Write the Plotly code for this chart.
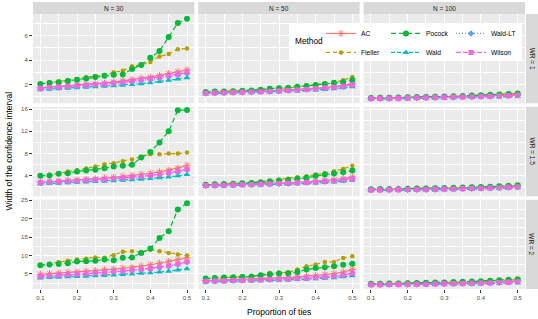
import plotly.graph_objects as go
from plotly.subplots import make_subplots

# ---------------- data ----------------
prop_ties = [0.1, 0.125, 0.15, 0.175, 0.2, 0.225, 0.25, 0.275, 0.3,
             0.325, 0.35, 0.375, 0.4, 0.425, 0.45, 0.475, 0.5]
sample_sizes = ["N = 30", "N = 50", "N = 100"]
win_ratios = ["WR = 1", "WR = 1.5", "WR = 2"]
methods = ["AC", "Fieller", "Pocock", "Wald", "Wald-LT", "Wilson"]

# each list: rows WR = 1, WR = 1.5, WR = 2
AC_N30 = [
    [1.75, 1.8, 1.85, 1.9, 1.95, 2.0, 2.05, 2.1, 2.2, 2.3, 2.4, 2.5, 2.6, 2.75, 2.9, 3.05, 3.2],
    [2.85, 2.95, 3.05, 3.15, 3.25, 3.35, 3.45, 3.6, 3.75, 3.9, 4.05, 4.25, 4.45, 4.7, 5.0, 5.4, 5.9],
    [4.9, 5.05, 5.2, 5.4, 5.55, 5.7, 5.9, 6.1, 6.3, 6.55, 6.8, 7.1, 7.5, 7.9, 8.4, 8.9, 9.4],
]
FIELLER_N30 = [
    [2.05, 2.2, 2.25, 2.35, 2.43, 2.6, 2.68, 2.78, 3.0, 3.13, 3.5, 3.6, 3.85, 4.3, 4.5, 4.9, 4.95],
    [4.0, 4.2, 4.48, 4.78, 5.0, 5.32, 5.68, 6.1, 6.28, 6.64, 6.94, 7.42, 7.9, 7.9, 8.0, 8.0, 8.2],
    [7.36, 7.7, 8.2, 8.6, 8.9, 9.1, 9.5, 9.4, 10.1, 11.0, 11.2, 10.9, 11.6, 11.2, 10.7, 10.3, 10.0],
]
POCOCK_N30 = [
    [2.05, 2.13, 2.19, 2.3, 2.4, 2.5, 2.62, 2.73, 2.8, 2.82, 3.27, 3.6, 4.2, 4.75, 5.9, 7.05, 7.4],
    [4.0, 4.06, 4.36, 4.48, 4.78, 4.96, 5.08, 5.38, 5.68, 5.8, 5.98, 7.3, 8.3, 10.0, 12.0, 15.8, 15.85],
    [7.36, 7.55, 7.7, 7.9, 8.36, 8.45, 8.6, 8.9, 8.7, 9.4, 9.5, 10.7, 11.9, 14.8, 16.6, 22.5, 24.2],
]
WALD_N30 = [
    [1.58, 1.62, 1.66, 1.7, 1.74, 1.78, 1.82, 1.86, 1.9, 1.95, 2.0, 2.07, 2.15, 2.25, 2.35, 2.45, 2.55],
    [2.55, 2.62, 2.69, 2.76, 2.83, 2.9, 2.97, 3.05, 3.13, 3.22, 3.31, 3.41, 3.52, 3.65, 3.8, 4.0, 4.25],
    [3.9, 4.0, 4.1, 4.2, 4.3, 4.4, 4.5, 4.6, 4.7, 4.85, 5.0, 5.15, 5.3, 5.5, 5.75, 6.05, 6.4],
]
WALDLT_N30 = [
    [1.68, 1.72, 1.77, 1.82, 1.87, 1.92, 1.97, 2.02, 2.08, 2.15, 2.23, 2.32, 2.42, 2.52, 2.64, 2.76, 2.9],
    [2.75, 2.83, 2.91, 2.99, 3.07, 3.15, 3.25, 3.35, 3.46, 3.58, 3.72, 3.86, 4.02, 4.2, 4.42, 4.72, 5.1],
    [4.3, 4.4, 4.55, 4.7, 4.85, 5.0, 5.15, 5.3, 5.5, 5.7, 5.9, 6.15, 6.4, 6.75, 7.1, 7.6, 8.2],
]
WILSON_N30 = [
    [1.7, 1.75, 1.8, 1.85, 1.9, 1.95, 2.0, 2.05, 2.12, 2.2, 2.3, 2.4, 2.5, 2.6, 2.75, 2.85, 3.0],
    [2.8, 2.88, 2.96, 3.04, 3.12, 3.2, 3.3, 3.4, 3.52, 3.64, 3.78, 3.92, 4.08, 4.26, 4.5, 4.8, 5.2],
    [4.4, 4.5, 4.65, 4.8, 4.95, 5.1, 5.25, 5.4, 5.6, 5.8, 6.0, 6.25, 6.5, 6.85, 7.2, 7.7, 8.3],
]

AC_N50 = [
    [1.32, 1.34, 1.36, 1.38, 1.4, 1.42, 1.45, 1.48, 1.52, 1.56, 1.6, 1.65, 1.7, 1.76, 1.83, 1.92, 2.05],
    [2.3, 2.34, 2.38, 2.42, 2.47, 2.52, 2.57, 2.63, 2.69, 2.76, 2.84, 2.93, 3.03, 3.15, 3.3, 3.5, 3.8],
    [3.2, 3.28, 3.36, 3.44, 3.52, 3.6, 3.7, 3.8, 3.92, 4.05, 4.2, 4.38, 4.58, 4.82, 5.1, 5.5, 6.2],
]
FIELLER_N50 = [
    [1.38, 1.42, 1.44, 1.46, 1.49, 1.52, 1.56, 1.62, 1.68, 1.72, 1.8, 1.88, 1.97, 2.07, 2.18, 2.35, 2.62],
    [2.41, 2.47, 2.53, 2.65, 2.71, 2.82, 3.0, 3.18, 3.35, 3.47, 3.76, 3.94, 4.24, 4.47, 4.82, 5.24, 5.82],
    [3.73, 3.9, 4.0, 4.18, 4.27, 4.27, 4.73, 5.27, 5.36, 5.45, 6.18, 7.1, 7.55, 8.27, 8.27, 9.36, 9.8],
]
POCOCK_N50 = [
    [1.38, 1.43, 1.43, 1.46, 1.49, 1.51, 1.57, 1.65, 1.7, 1.73, 1.81, 1.89, 1.97, 2.05, 2.14, 2.19, 2.38],
    [2.41, 2.47, 2.53, 2.59, 2.65, 2.71, 2.82, 3.0, 3.12, 3.24, 3.47, 3.65, 4.0, 4.24, 4.41, 4.65, 4.94],
    [3.73, 3.9, 4.0, 4.1, 4.18, 4.27, 4.64, 4.9, 5.1, 5.2, 5.5, 6.2, 6.6, 6.8, 7.1, 7.5, 7.8],
]
WALD_N50 = [
    [1.24, 1.26, 1.28, 1.3, 1.32, 1.34, 1.36, 1.38, 1.41, 1.44, 1.47, 1.51, 1.55, 1.6, 1.66, 1.73, 1.82],
    [2.15, 2.18, 2.21, 2.24, 2.28, 2.32, 2.36, 2.4, 2.45, 2.5, 2.56, 2.62, 2.7, 2.8, 2.9, 3.02, 3.2],
    [2.8, 2.85, 2.9, 2.96, 3.02, 3.08, 3.14, 3.2, 3.28, 3.36, 3.45, 3.55, 3.66, 3.8, 3.98, 4.2, 4.5],
]
WALDLT_N50 = [
    [1.28, 1.3, 1.32, 1.34, 1.36, 1.38, 1.41, 1.44, 1.47, 1.51, 1.55, 1.59, 1.64, 1.7, 1.77, 1.85, 1.96],
    [2.22, 2.26, 2.3, 2.34, 2.38, 2.42, 2.47, 2.52, 2.58, 2.64, 2.71, 2.79, 2.88, 2.98, 3.1, 3.26, 3.45],
    [2.95, 3.01, 3.07, 3.14, 3.21, 3.28, 3.36, 3.44, 3.53, 3.63, 3.74, 3.86, 4.0, 4.17, 4.38, 4.65, 5.1],
]
WILSON_N50 = [
    [1.28, 1.3, 1.32, 1.34, 1.36, 1.38, 1.41, 1.44, 1.47, 1.51, 1.55, 1.6, 1.65, 1.71, 1.78, 1.87, 1.98],
    [2.25, 2.29, 2.33, 2.37, 2.41, 2.45, 2.5, 2.55, 2.61, 2.67, 2.74, 2.82, 2.91, 3.01, 3.14, 3.3, 3.5],
    [3.0, 3.06, 3.12, 3.19, 3.26, 3.33, 3.41, 3.49, 3.58, 3.68, 3.79, 3.91, 4.05, 4.22, 4.43, 4.7, 5.2],
]

AC_N100 = [
    [0.87, 0.88, 0.89, 0.9, 0.92, 0.93, 0.95, 0.96, 0.98, 1.0, 1.02, 1.04, 1.06, 1.09, 1.11, 1.14, 1.17],
    [1.5, 1.52, 1.54, 1.56, 1.58, 1.6, 1.63, 1.66, 1.69, 1.72, 1.76, 1.8, 1.84, 1.89, 1.94, 2.0, 2.1],
    [2.15, 2.18, 2.21, 2.24, 2.27, 2.3, 2.34, 2.38, 2.42, 2.47, 2.52, 2.58, 2.64, 2.71, 2.8, 2.95, 3.1],
]
FIELLER_N100 = [
    [0.88, 0.89, 0.9, 0.92, 0.93, 0.95, 0.97, 0.99, 1.01, 1.03, 1.06, 1.09, 1.12, 1.16, 1.2, 1.25, 1.3],
    [1.55, 1.57, 1.59, 1.61, 1.64, 1.67, 1.7, 1.73, 1.77, 1.81, 1.85, 1.9, 1.95, 2.01, 2.08, 2.15, 2.25],
    [2.25, 2.29, 2.33, 2.37, 2.42, 2.47, 2.52, 2.58, 2.64, 2.71, 2.79, 2.88, 2.98, 3.09, 3.21, 3.33, 3.45],
]
POCOCK_N100 = [
    [0.9, 0.91, 0.92, 0.94, 0.95, 0.97, 0.99, 1.01, 1.03, 1.05, 1.07, 1.1, 1.13, 1.16, 1.19, 1.23, 1.27],
    [1.6, 1.62, 1.64, 1.66, 1.69, 1.72, 1.75, 1.78, 1.82, 1.86, 1.9, 1.95, 2.0, 2.06, 2.13, 2.2, 2.3],
    [2.3, 2.34, 2.38, 2.42, 2.47, 2.52, 2.58, 2.64, 2.7, 2.77, 2.85, 2.94, 3.04, 3.15, 3.28, 3.42, 3.55],
]
WALD_N100 = [
    [0.8, 0.81, 0.82, 0.83, 0.84, 0.86, 0.87, 0.88, 0.9, 0.91, 0.93, 0.95, 0.97, 0.99, 1.01, 1.03, 1.05],
    [1.35, 1.36, 1.37, 1.39, 1.41, 1.43, 1.45, 1.47, 1.5, 1.53, 1.56, 1.59, 1.63, 1.67, 1.72, 1.78, 1.85],
    [1.95, 1.97, 1.99, 2.01, 2.04, 2.07, 2.1, 2.13, 2.16, 2.2, 2.24, 2.28, 2.33, 2.38, 2.44, 2.52, 2.6],
]
WALDLT_N100 = [
    [0.84, 0.85, 0.86, 0.87, 0.89, 0.9, 0.91, 0.93, 0.95, 0.96, 0.98, 1.0, 1.02, 1.04, 1.07, 1.09, 1.12],
    [1.44, 1.46, 1.48, 1.5, 1.52, 1.54, 1.56, 1.59, 1.62, 1.65, 1.68, 1.72, 1.76, 1.8, 1.85, 1.92, 2.0],
    [2.04, 2.06, 2.09, 2.12, 2.15, 2.18, 2.21, 2.25, 2.29, 2.33, 2.38, 2.43, 2.49, 2.55, 2.63, 2.75, 2.9],
]
WILSON_N100 = [
    [0.85, 0.86, 0.87, 0.88, 0.9, 0.91, 0.92, 0.94, 0.96, 0.97, 0.99, 1.01, 1.03, 1.05, 1.07, 1.09, 1.12],
    [1.45, 1.47, 1.49, 1.51, 1.53, 1.55, 1.57, 1.6, 1.63, 1.66, 1.69, 1.73, 1.77, 1.81, 1.86, 1.93, 2.0],
    [2.05, 2.07, 2.1, 2.13, 2.16, 2.19, 2.22, 2.26, 2.3, 2.34, 2.39, 2.44, 2.5, 2.56, 2.64, 2.76, 2.9],
]

x_ticks = [0.1, 0.2, 0.3, 0.4, 0.5]
x_tick_labels = ["0.1", "0.2", "0.3", "0.4", "0.5"]

series = {
    "AC": [AC_N30, AC_N50, AC_N100],
    "Fieller": [FIELLER_N30, FIELLER_N50, FIELLER_N100],
    "Pocock": [POCOCK_N30, POCOCK_N50, POCOCK_N100],
    "Wald": [WALD_N30, WALD_N50, WALD_N100],
    "Wald-LT": [WALDLT_N30, WALDLT_N50, WALDLT_N100],
    "Wilson": [WILSON_N30, WILSON_N50, WILSON_N100],
}

# ---------------- styling ----------------
FONT = "Liberation Sans, Arial, sans-serif"
styles = {
    "AC": dict(color="#F8766D", symbol="asterisk-open", size=6, dash="solid", legend="legend"),
    "Fieller": dict(color="#B79F00", symbol="circle", size=4.5, dash="4px,3px", legend="legend"),
    "Pocock": dict(color="#00BA38", symbol="circle", size=6, dash="5px,3px", legend="legend2"),
    "Wald": dict(color="#00BFC4", symbol="triangle-up", size=6, dash="4px,2px", legend="legend2"),
    "Wald-LT": dict(color="#619CFF", symbol="diamond", size=5, dash="1px,2px", legend="legend3"),
    "Wilson": dict(color="#F564E3", symbol="square", size=5, dash="5px,2px", legend="legend3"),
}

W, H = 538, 319
ML, MR, MT, MB = 33, 13, 12, 30
PW, PH = W - ML - MR, H - MT - MB

fig = make_subplots(rows=3, cols=3, shared_xaxes=True, shared_yaxes=True,
                    horizontal_spacing=4 / PW, vertical_spacing=3.5 / PH)

for c in range(3):
    for r in range(3):
        for m in methods:
            st = styles[m]
            mk = dict(color=st["color"], symbol=st["symbol"], size=st["size"])
            if st["symbol"] == "asterisk-open":
                mk["line"] = dict(color=st["color"], width=1)
            fig.add_trace(go.Scatter(
                x=prop_ties, y=series[m][c][r], mode="lines+markers", name=m,
                line=dict(color=st["color"], width=1.2, dash=st["dash"]),
                marker=mk, legend=st["legend"],
                showlegend=(r == 0 and c == 0), legendgroup=m,
            ), row=r + 1, col=c + 1)

y_ranges = [[0.46, 7.78], [0.35, 16.4], [0.9, 25.2]]
y_dticks = [2, 4, 5]
y_minor = [1, 2, 2.5]

axis_common = dict(showline=False, zeroline=False, gridcolor="white", gridwidth=1.1,
                   tickfont=dict(size=6, color="#4D4D4D", family=FONT),
                   ticklen=3, tickwidth=0.8, tickcolor="#333333")

for r in range(3):
    for c in range(3):
        fig.update_xaxes(range=[0.08, 0.52], tickvals=x_ticks, ticktext=x_tick_labels,
                         ticks="outside" if r == 2 else "",
                         showticklabels=(r == 2),
                         minor=dict(tickvals=[0.15, 0.25, 0.35, 0.45], showgrid=True,
                                    gridcolor="white", gridwidth=0.5),
                         **axis_common, row=r + 1, col=c + 1)
        fig.update_yaxes(range=y_ranges[r], dtick=y_dticks[r], tick0=0,
                         ticks="outside" if c == 0 else "",
                         showticklabels=(c == 0),
                         minor=dict(dtick=y_minor[r], tick0=0, showgrid=True,
                                    gridcolor="white", gridwidth=0.5),
                         **axis_common, row=r + 1, col=c + 1)

shapes = []
annotations = []
# top strips
for c in range(3):
    xa = fig.layout["xaxis" + ("" if c == 0 else str(c + 1))].domain
    shapes.append(dict(type="rect", xref="paper", yref="paper", x0=xa[0], x1=xa[1],
                       y0=1, y1=1 + 12 / PH, fillcolor="#D9D9D9", line=dict(width=0),
                       layer="above"))
    annotations.append(dict(text=sample_sizes[c], xref="paper", yref="paper",
                            x=(xa[0] + xa[1]) / 2, y=1 + 6 / PH, showarrow=False,
                            font=dict(size=6.5, color="#1A1A1A", family=FONT),
                            xanchor="center", yanchor="middle"))
# right strips
for r in range(3):
    ya = fig.layout["yaxis" + ("" if r == 0 else str(3 * r + 1))].domain
    shapes.append(dict(type="rect", xref="paper", yref="paper", x0=1 + 1 / PW, x1=1 + 13 / PW,
                       y0=ya[0], y1=ya[1], fillcolor="#D9D9D9", line=dict(width=0),
                       layer="above"))
    annotations.append(dict(text=win_ratios[r], xref="paper", yref="paper",
                            x=1 + 7 / PW, y=(ya[0] + ya[1]) / 2, showarrow=False, textangle=90,
                            font=dict(size=6.5, color="#1A1A1A", family=FONT),
                            xanchor="center", yanchor="middle"))

# axis titles
annotations.append(dict(text="Proportion of ties", xref="paper", yref="paper",
                        x=0.5, y=-23 / PH, showarrow=False, yanchor="middle",
                        font=dict(size=8.5, color="#000000", family=FONT)))
annotations.append(dict(text="Width of the confidence interval", xref="paper", yref="paper",
                        x=-25 / PW, y=0.5, showarrow=False, textangle=-90, xanchor="center",
                        font=dict(size=8.5, color="#000000", family=FONT)))


def px_x(p):
    return (p - ML) / PW


def px_y(p):
    return 1 - (p - MT) / PH


# legend box + title
shapes.append(dict(type="rect", xref="paper", yref="paper", x0=px_x(289), x1=px_x(522),
                   y0=px_y(58), y1=px_y(21), fillcolor="white", line=dict(width=0),
                   layer="above"))
annotations.append(dict(text="Method", xref="paper", yref="paper", x=px_x(293), y=px_y(39),
                        xanchor="left", yanchor="middle", showarrow=False,
                        font=dict(size=8.3, color="#000000", family=FONT)))

leg_common = dict(bgcolor="rgba(0,0,0,0)", borderwidth=0, orientation="v",
                  font=dict(size=6.7, color="#000000", family=FONT),
                  xanchor="left", yanchor="top", tracegroupgap=0, itemwidth=30)

fig.update_layout(
    width=W, height=H,
    margin=dict(l=ML, r=MR, t=MT, b=MB),
    paper_bgcolor="white", plot_bgcolor="#EBEBEB",
    font=dict(family=FONT),
    shapes=shapes, annotations=annotations,
    legend=dict(x=px_x(321), y=px_y(17), **leg_common),
    legend2=dict(x=px_x(386), y=px_y(17), **leg_common),
    legend3=dict(x=px_x(451), y=px_y(17), **leg_common),
)

fig.write_html("out.html", config={"displayModeBar": False},
               post_script="document.body.style.margin='0';")
